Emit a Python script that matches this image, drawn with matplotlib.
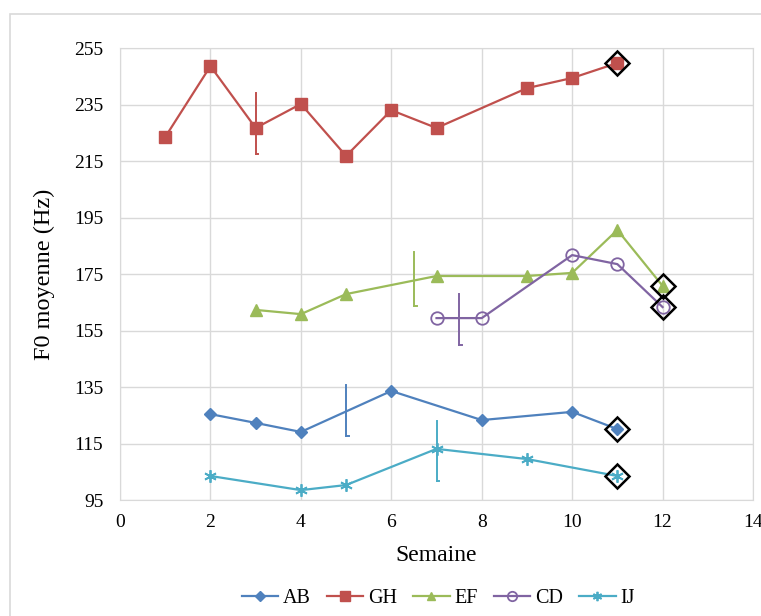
import matplotlib.pyplot as plt
from matplotlib.patches import Rectangle
from matplotlib.lines import Line2D

plt.rcParams['font.family'] = ['Liberation Serif', 'DejaVu Serif']

# series: week -> mean F0 (Hz)
ab_x = [2, 3, 4, 6, 8, 10, 11]
ab_y = [125.4, 122.3, 119.1, 133.6, 123.3, 126.2, 120.1]
gh_x = [1, 2, 3, 4, 5, 6, 7, 9, 10, 11]
gh_y = [223.5, 248.6, 226.7, 235.2, 216.8, 233.0, 226.7, 240.8, 244.4, 249.7]
ef_x = [3, 4, 5, 7, 9, 10, 11, 12]
ef_y = [162.3, 160.8, 167.9, 174.3, 174.3, 175.4, 190.6, 170.8]
cd_x = [7, 8, 10, 11, 12]
cd_y = [159.4, 159.4, 181.7, 178.5, 163.3]
ij_x = [2, 4, 5, 7, 9, 11]
ij_y = [103.5, 98.5, 100.3, 113.1, 109.5, 103.5]

# vertical markers (x, low, high)
vbars = {
    'GH': (3, 217.4, 239.2),
    'EF': (6.5, 163.7, 182.9),
    'CD': (7.5, 149.8, 167.9),
    'AB': (5, 117.7, 135.7),
    'IJ': (7, 101.7, 123.1),
}

colors = {'AB': '#4F81BD', 'GH': '#C0504D', 'EF': '#9BBB59',
          'CD': '#8064A2', 'IJ': '#4BACC6'}

fig = plt.figure(figsize=(7.61, 6.16), dpi=100)
fig.patches.append(Rectangle((0.013, -0.1), 1.2, 1.077, transform=fig.transFigure,
                             fill=False, edgecolor='#D9D9D9', lw=1.2))
ax = fig.add_axes([0.1577, 0.1883, 0.8318, 0.7337])

series = [
    ('AB', ab_x, ab_y, dict(marker='D', ms=6.5)),
    ('GH', gh_x, gh_y, dict(marker='s', ms=9)),
    ('EF', ef_x, ef_y, dict(marker='^', ms=8.5)),
    ('CD', cd_x, cd_y, dict(marker='o', ms=9, mfc='none', mew=1.3)),
    ('IJ', ij_x, ij_y, dict(marker=(6, 2, 0), ms=9, mew=1.3)),
]
handles = []
for name, xs, ys, kw in series:
    c = colors[name]
    ax.plot(xs, ys, color=c, lw=1.6, mec=c, zorder=3, **kw)
    # last point highlighted
    ax.plot(xs[-1], ys[-1], marker='D', ms=12.5, mfc='none', mec='black', mew=1.8,
            ls='none', zorder=4)
    vx, lo, hi = vbars[name]
    ax.plot([vx, vx], [lo, hi], color=c, lw=1.4, zorder=3)
    ax.plot([vx, vx + 0.06], [lo, lo], color=c, lw=1.4, zorder=3)
    lkw = dict(kw)
    lkw['ms'] = kw['ms'] * 0.75
    handles.append(Line2D([], [], color=c, lw=1.6, mec=c, label=name, **lkw))

ax.set_xlim(0, 14)
ax.set_ylim(95, 255)
ax.set_xticks(range(0, 15, 2))
ax.set_yticks(range(95, 256, 20))
ax.grid(True, color='#D9D9D9', lw=1)
ax.set_axisbelow(True)
for s in ax.spines.values():
    s.set_color('#D9D9D9')
ax.tick_params(length=0, labelsize=14)
ax.tick_params(axis='y', pad=12)
ax.tick_params(axis='x', pad=10)
ax.set_xlabel('Semaine', fontsize=17, labelpad=10)
ax.set_ylabel('F0 moyenne (Hz)', fontsize=17.5, labelpad=14)

fig.legend(handles=handles, loc='center', bbox_to_anchor=(0.576, 0.029),
           ncol=5, frameon=False, fontsize=14.5, handlelength=1.8, columnspacing=0.8,
           handletextpad=0.25)

fig.savefig('out.png', dpi=100)
